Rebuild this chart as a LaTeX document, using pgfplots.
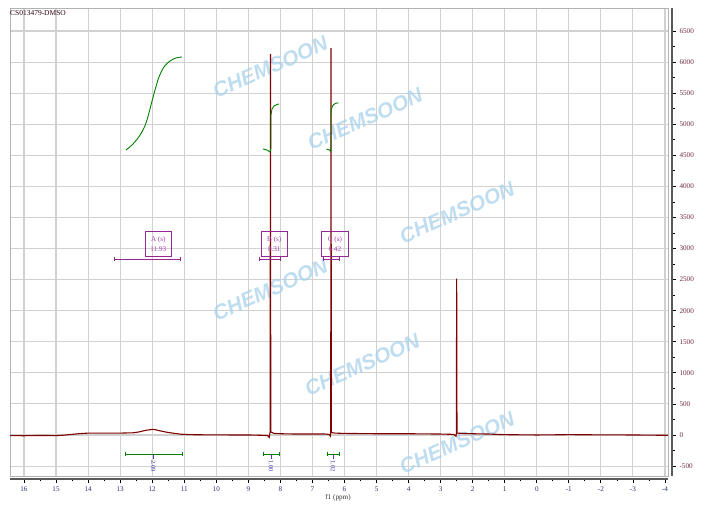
\documentclass[border=0pt]{standalone}
\usepackage{pgfplots}
\pgfplotsset{compat=1.18}
\usepackage{fontspec}
\setmainfont{Liberation Serif}
\newfontfamily\wmfont{Liberation Sans}

\definecolor{spec}{RGB}{128,0,0}
\definecolor{integ}{RGB}{0,128,0}
\definecolor{purp}{RGB}{150,40,150}
\definecolor{purptext}{RGB}{170,60,170}
\definecolor{wm}{RGB}{170,210,235}
\definecolor{xlab}{RGB}{40,50,110}
\definecolor{ylab}{RGB}{110,40,60}
\definecolor{intlab}{RGB}{60,60,180}

\tikzset{
  wmark/.style={text=wm, rotate=24, font=\wmfont\bfseries\itshape\fontsize{21}{21}\selectfont, opacity=0.75},
  intl/.style={text=intlab, rotate=-90, font=\fontsize{6.5}{6.5}\selectfont, anchor=west, inner sep=0.5bp},
  mult/.style={draw=purp, line width=0.8bp, text=purptext, align=center,
        minimum width=26.7bp, minimum height=24.3bp, inner sep=1bp,
        font=\fontsize{7.2}{9.5}\selectfont},
}

\begin{document}
\begin{tikzpicture}[x=1bp,y=1bp]
\useasboundingbox (-10,-35) rectangle (706,476);
\begin{axis}[
    at={(0,0)}, anchor=south west,
    scale only axis, width=658bp, height=468bp,
    x dir=reverse,
    xmin=-4.094, xmax=16.437,
    ymin=-660, ymax=6870,
    axis x line*=bottom, axis y line*=right,
    axis x line shift=3bp, axis y line shift=4bp,
    axis line style={line width=1.5bp, black!65},
    xtick={-4,-3,...,16}, minor x tick num=1,
    ytick={-500,0,...,6500}, minor y tick num=1,
    tick align=outside,
    major tick length=4bp, minor tick length=2.5bp,
    tick style={black, line width=0.8bp},
    grid=major,
    major grid style={black!18, line width=1.1bp},
    /pgf/number format/assume math mode=true,
    /pgf/number format/1000 sep={},
    x tick label style={font=\fontsize{7.2}{8}\selectfont, text=xlab},
    y tick label style={font=\fontsize{7.2}{8}\selectfont, text=ylab},
    clip=false,
]
\draw[black!30] (rel axis cs:0,0) rectangle (rel axis cs:1,1);

% watermarks
\node[wmark] at (axis cs:8.32,5919) {CHEMSOON};
\node[wmark] at (axis cs:5.36,5081) {CHEMSOON};
\node[wmark] at (axis cs:2.49,3581) {CHEMSOON};
\node[wmark] at (axis cs:8.32,2339) {CHEMSOON};
\node[wmark] at (axis cs:5.45,1129) {CHEMSOON};
\node[wmark] at (axis cs:2.49,-129) {CHEMSOON};

% spectrum
\addplot[spec, line width=1.1bp] coordinates {
(16.43,-10)(16.0,-12)(15.5,-8)(15.0,-10)(14.8,-5)(14.6,5)(14.3,20)(14.0,30)
(13.5,30)(13.0,30)(12.6,35)(12.4,50)(12.2,75)(12.0,90)(11.9,85)(11.7,60)
(11.5,40)(11.3,25)(11.1,12)(10.8,5)(10.5,3)(10.0,2)(9.5,0)(9.0,0)(8.6,-5)
(8.40,-10)(8.35,-40)(8.32,50)(8.31,6130)(8.30,50)
(8.2,25)(8.0,20)(7.5,15)(7.0,15)(6.6,15)(6.48,10)(6.44,-20)
(6.43,40)(6.42,6226)(6.41,40)(6.3,30)(6.0,25)(5.0,20)(4.0,20)(3.0,15)
(2.6,10)(2.52,-20)(2.51,30)(2.50,2516)(2.49,30)(2.3,25)(2.0,20)
(1.5,15)(1.0,5)(0.0,0)(-1,5)(-2,2)(-3,0)(-4,-5)(-4.09,-5)
};

% integral curves
\addplot[integ, line width=0.9bp, smooth] coordinates {
(12.818,4585)(12.630,4666)(12.443,4778)(12.287,4907)(12.162,5068)(12.037,5309)
(11.912,5551)(11.788,5760)(11.632,5921)(11.445,6017)(11.257,6066)(11.070,6082)
};
\addplot[integ, line width=0.9bp] coordinates {
(8.543,4601)(8.418,4585)(8.325,4553)(8.293,4618)(8.293,5149)(8.262,5245)
(8.200,5293)(8.106,5317)(8.044,5325)
};
\addplot[integ, line width=0.9bp] coordinates {
(6.56,4600)(6.47,4585)(6.43,4560)(6.42,4620)(6.42,5160)(6.40,5260)
(6.35,5310)(6.28,5335)(6.19,5345)
};

% integration bars
\addplot[integ, line width=0.9bp, mark=|, mark size=2.2bp] coordinates {(12.82,-306)(11.07,-306)};
\addplot[integ, line width=0.9bp, mark=|, mark size=2.2bp] coordinates {(8.543,-306)(8.044,-306)};
\addplot[integ, line width=0.9bp, mark=|, mark size=2.2bp] coordinates {(6.546,-306)(6.17,-306)};
\draw[intlab, line width=0.8bp] (axis cs:11.97,-306) -- (axis cs:11.97,-390);
\draw[intlab, line width=0.8bp] (axis cs:8.29,-306) -- (axis cs:8.29,-390);
\draw[intlab, line width=0.8bp] (axis cs:6.36,-306) -- (axis cs:6.36,-390);
\node[intl] at (axis cs:11.97,-395) {2.09};
\node[intl] at (axis cs:8.29,-395) {1.00};
\node[intl] at (axis cs:6.36,-395) {1.02};

% multiplet labels
\addplot[purp, line width=0.9bp, mark=|, mark size=2bp] coordinates {(13.18,2827)(11.11,2827)};
\addplot[purp, line width=0.9bp, mark=|, mark size=2bp] coordinates {(8.66,2827)(8.00,2827)};
\addplot[purp, line width=0.9bp, mark=|, mark size=2bp] coordinates {(6.67,2827)(6.17,2827)};
\node[mult] at (axis cs:11.81,3073) {A (s)\\11.93};
\node[mult] at (axis cs:8.19,3073) {B (s)\\8.31};
\node[mult] at (axis cs:6.30,3073) {C (s)\\6.42};
\end{axis}
\node[anchor=west, inner sep=0, text=black!75!purple, font=\fontsize{7.5}{8}\selectfont] at (0,463) {CS013479-DMSO};
\node[font=\fontsize{7.2}{8}\selectfont, text=black!80] at (328,-22) {f1 (ppm)};
\end{tikzpicture}
\end{document}
